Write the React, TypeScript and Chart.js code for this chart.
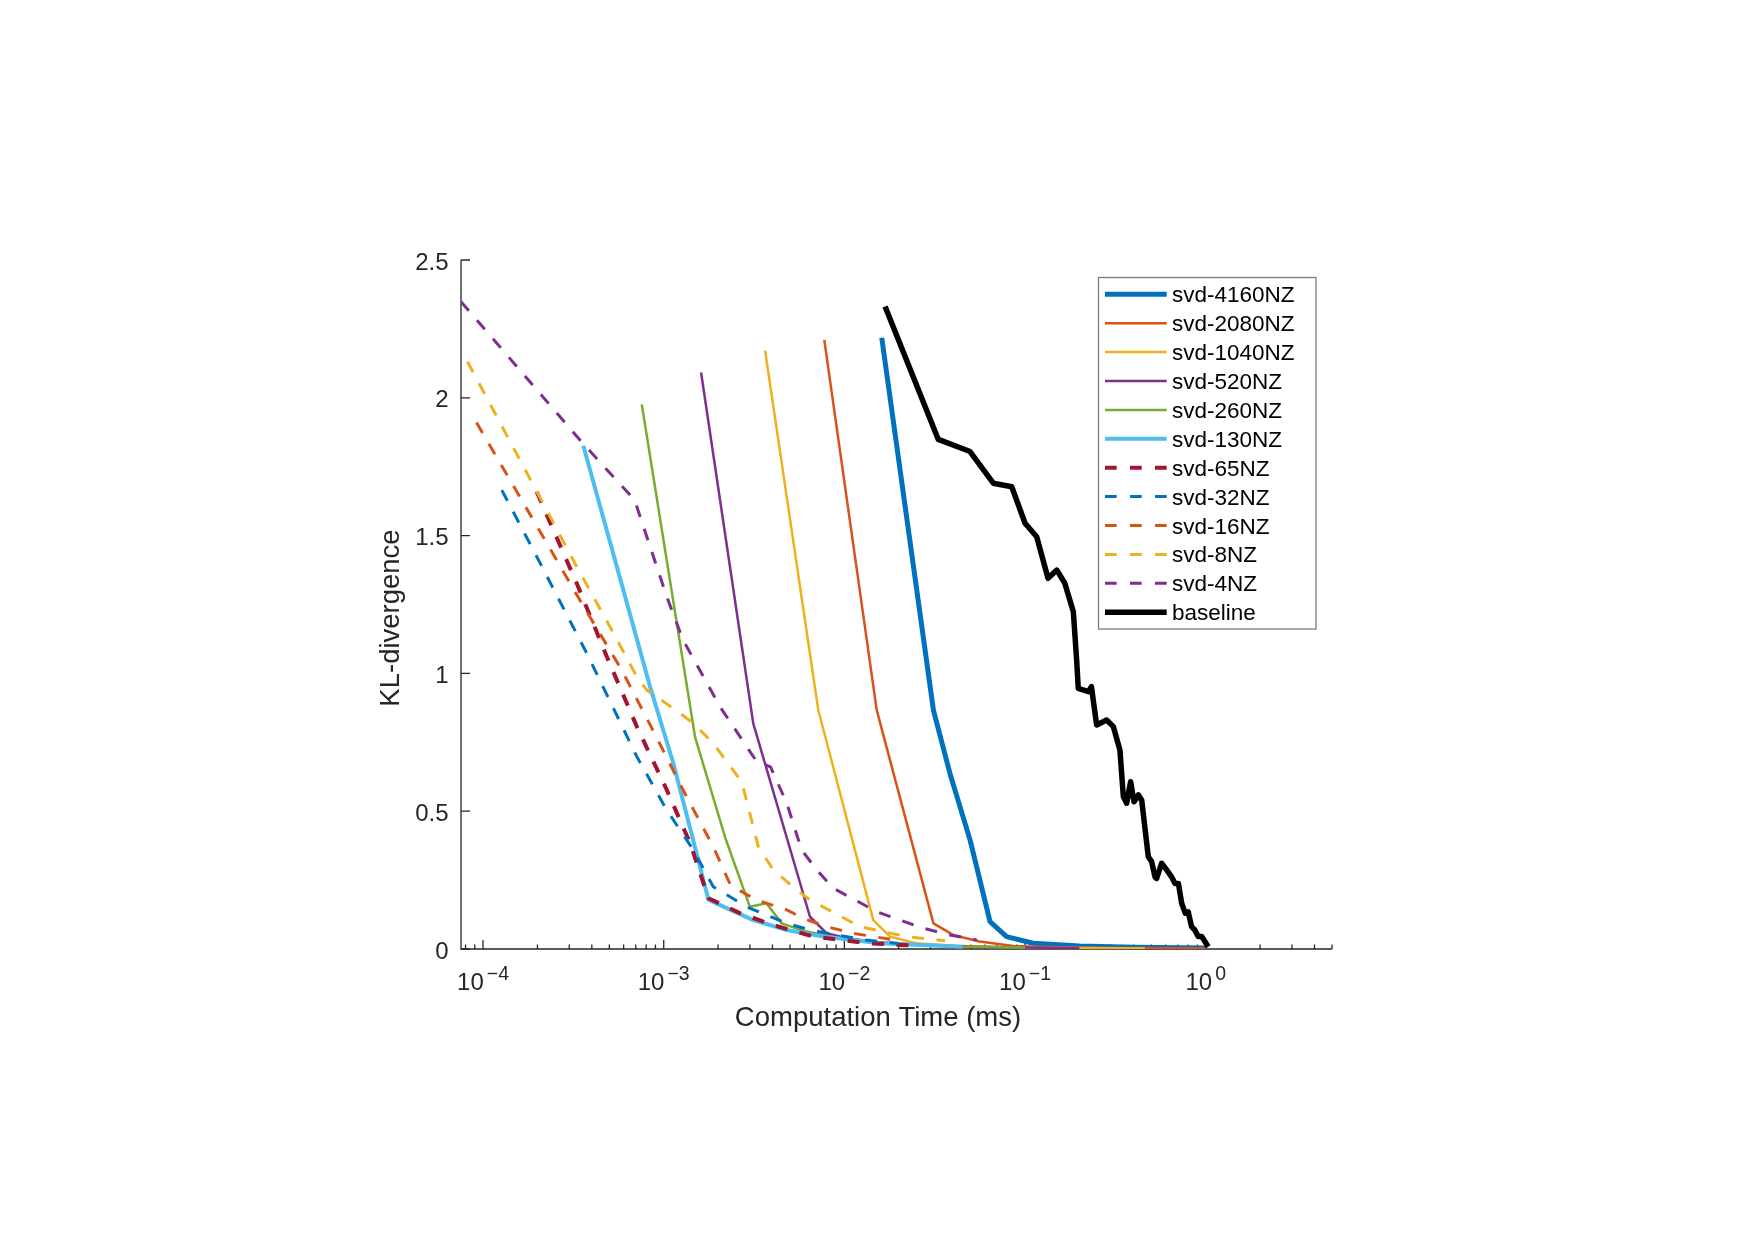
import React, { useEffect, useRef } from "react";
import { Chart, registerables } from "chart.js";

Chart.register(...registerables);

const W = 1755;
const H = 1240;
const FONT = '"Liberation Sans", Arial, Helvetica, sans-serif';
const TEXT = "#262626";

// ---------- data (time in ms, KL-divergence) ----------
const seriesLabels = [
  "svd-4160NZ", "svd-2080NZ", "svd-1040NZ", "svd-520NZ", "svd-260NZ", "svd-130NZ",
  "svd-65NZ", "svd-32NZ", "svd-16NZ", "svd-8NZ", "svd-4NZ", "baseline",
];

const t4160 = [0.0161, 0.0311, 0.0384, 0.0496, 0.064, 0.079, 0.111, 0.2, 0.4, 1.0];
const kl4160 = [2.218, 0.867, 0.637, 0.396, 0.099, 0.045, 0.021, 0.011, 0.006, 0.004];

const t2080 = [0.00774, 0.0151, 0.0311, 0.04, 0.056, 0.086, 0.15, 0.3, 0.6, 1.0];
const kl2080 = [2.21, 0.867, 0.093, 0.051, 0.027, 0.011, 0.006, 0.004, 0.003, 0.003];

const t1040 = [0.00364, 0.00717, 0.01445, 0.0179, 0.025, 0.04, 0.08, 0.2, 0.46];
const kl1040 = [2.171, 0.867, 0.105, 0.045, 0.021, 0.012, 0.006, 0.004, 0.003];

const t520 = [0.00161, 0.00313, 0.00645, 0.00798, 0.0103, 0.015, 0.025, 0.05, 0.1, 0.2];
const kl520 = [2.092, 0.819, 0.117, 0.057, 0.039, 0.025, 0.015, 0.008, 0.005, 0.004];

const t260 = [0.000756, 0.00149, 0.0022, 0.003, 0.0037, 0.0045, 0.006, 0.01, 0.02, 0.045, 0.1];
const kl260 = [1.976, 0.77, 0.4, 0.153, 0.166, 0.093, 0.065, 0.035, 0.018, 0.008, 0.005];

const t130 = [0.000359, 0.00084, 0.00113, 0.00152, 0.00177, 0.00313, 0.0048, 0.00764, 0.0157, 0.045];
const kl130 = [1.826, 0.952, 0.674, 0.347, 0.178, 0.105, 0.069, 0.045, 0.021, 0.008];

const t65 = [0.000198, 0.00033, 0.000484, 0.00071, 0.00104, 0.0014, 0.00166, 0.00177, 0.00264, 0.00404, 0.00673, 0.00945, 0.0133, 0.025];
const kl65 = [1.659, 1.327, 1.061, 0.807, 0.577, 0.384, 0.238, 0.184, 0.13, 0.087, 0.045, 0.033, 0.021, 0.012];

const t32 = [0.000127, 0.000207, 0.000375, 0.00071, 0.00104, 0.00146, 0.00188, 0.00288, 0.0048, 0.00645, 0.00906, 0.013, 0.02];
const kl32 = [1.665, 1.4, 1.073, 0.698, 0.504, 0.359, 0.226, 0.153, 0.093, 0.069, 0.051, 0.033, 0.02];

const t16 = [0.000092, 0.00019, 0.000352, 0.000586, 0.00091, 0.00128, 0.00188, 0.00235, 0.00327, 0.0048, 0.00593, 0.00798, 0.0112, 0.02];
const kl16 = [1.91, 1.556, 1.254, 1.012, 0.77, 0.577, 0.371, 0.23, 0.178, 0.142, 0.111, 0.081, 0.057, 0.03];

const t8 = [0.000082, 0.00021, 0.00033, 0.000516, 0.00071, 0.000805, 0.00113, 0.00146, 0.00188, 0.0027, 0.00334, 0.00404, 0.00545, 0.00645, 0.00887, 0.0122, 0.0221, 0.036];
const kl8 = [2.131, 1.629, 1.387, 1.157, 0.988, 0.94, 0.873, 0.819, 0.746, 0.607, 0.371, 0.287, 0.214, 0.178, 0.13, 0.081, 0.045, 0.03];

const t4 = [0.0000755, 0.00035, 0.00069, 0.00104, 0.00128, 0.00205, 0.00327, 0.0039, 0.0048, 0.0058, 0.00703, 0.0087, 0.01145, 0.0151, 0.0203, 0.0274, 0.0384, 0.054];
const kl4 = [2.349, 1.841, 1.629, 1.278, 1.121, 0.879, 0.68, 0.661, 0.529, 0.359, 0.287, 0.22, 0.178, 0.135, 0.105, 0.075, 0.051, 0.033];

const tBase = [0.0168, 0.0331, 0.0496, 0.0667, 0.0844, 0.1, 0.116, 0.134, 0.15, 0.166, 0.185, 0.193, 0.197, 0.224, 0.233, 0.249, 0.283, 0.308, 0.335, 0.35, 0.365, 0.384, 0.401, 0.424, 0.442, 0.481, 0.502, 0.524, 0.535, 0.57, 0.608, 0.647, 0.676, 0.706, 0.736, 0.77, 0.8, 0.835, 0.87, 0.91, 0.95, 1.033];
const klBase = [2.331, 1.849, 1.805, 1.69, 1.677, 1.545, 1.496, 1.345, 1.375, 1.327, 1.224, 1.049, 0.946, 0.934, 0.952, 0.813, 0.831, 0.807, 0.722, 0.553, 0.529, 0.607, 0.534, 0.559, 0.541, 0.335, 0.317, 0.262, 0.256, 0.311, 0.287, 0.262, 0.238, 0.238, 0.166, 0.13, 0.135, 0.081, 0.069, 0.045, 0.045, 0.008];

const seriesTimes = [t4160, t2080, t1040, t520, t260, t130, t65, t32, t16, t8, t4, tBase];
const seriesKL = [kl4160, kl2080, kl1040, kl520, kl260, kl130, kl65, kl32, kl16, kl8, kl4, klBase];

// ---------- axes ----------
const xMin = 0.0000755;
const xMax = 5;
const yMin = 0;
const yMax = 2.5;
const xTickExponents = [-4, -3, -2, -1, 0];
const yTickValues = [0, 0.5, 1, 1.5, 2, 2.5];
const yTickLabels = ["0", "0.5", "1", "1.5", "2", "2.5"];
const xTitle = "Computation Time (ms)";
const yTitle = "KL-divergence";

// ---------- styles ----------
const seriesColors = [
  "#0072BD", "#D95319", "#EDB120", "#7E2F8E", "#77AC30", "#4DBEEE",
  "#A2142F", "#0072BD", "#D95319", "#EDB120", "#7E2F8E", "#000000",
];
const seriesWidths = [5, 2.5, 2.5, 2.5, 2.5, 4, 4, 3, 3, 3, 3, 5.5];
const seriesDashed = [false, false, false, false, false, false, true, true, true, true, true, false];
const DASH = [12, 12.5];

const axesPlugin = {
  id: "matlabAxes",
  beforeDatasetsDraw(chart: any) {
    const ctx = chart.ctx as CanvasRenderingContext2D;
    const xs = chart.scales.x;
    const ys = chart.scales.y;
    const { left, right, top, bottom } = chart.chartArea;
    ctx.save();
    ctx.strokeStyle = TEXT;
    ctx.lineWidth = 1.3;
    ctx.setLineDash([]);
    ctx.beginPath();
    ctx.moveTo(left, top);
    ctx.lineTo(left, bottom);
    ctx.lineTo(right, bottom);
    ctx.stroke();
    // y ticks (inward)
    ctx.beginPath();
    for (const v of yTickValues) {
      const py = ys.getPixelForValue(v);
      ctx.moveTo(left, py);
      ctx.lineTo(left + 9, py);
    }
    // x ticks: major + minor (inward)
    for (let e = -5; e <= 1; e++) {
      for (let k = 1; k <= 9; k++) {
        const v = k * Math.pow(10, e);
        if (v < xMin * 1.0001 || v > xMax * 1.0001) continue;
        const px = xs.getPixelForValue(v);
        const len = k === 1 ? 9 : 4.5;
        ctx.moveTo(px, bottom);
        ctx.lineTo(px, bottom - len);
      }
    }
    ctx.stroke();
    ctx.restore();
  },
  afterDraw(chart: any) {
    const ctx = chart.ctx as CanvasRenderingContext2D;
    const xs = chart.scales.x;
    const ys = chart.scales.y;
    const { left, bottom } = chart.chartArea;
    ctx.save();
    ctx.fillStyle = TEXT;
    // y tick labels
    ctx.font = `24px ${FONT}`;
    ctx.textAlign = "right";
    ctx.textBaseline = "alphabetic";
    yTickValues.forEach((v, i) => {
      const py = ys.getPixelForValue(v);
      ctx.fillText(yTickLabels[i], left - 12.5, py + 9.5);
    });
    // x tick labels 10^e
    ctx.textAlign = "left";
    for (const e of xTickExponents) {
      const px = xs.getPixelForValue(Math.pow(10, e));
      const base = "10";
      const sup = e < 0 ? "\u2212" + Math.abs(e) : String(e);
      ctx.font = `24px ${FONT}`;
      const wb = ctx.measureText(base).width;
      ctx.font = `19.5px ${FONT}`;
      const ws = ctx.measureText(sup).width;
      const gap = 3;
      const x0 = px - (wb + gap + ws) / 2;
      ctx.font = `24px ${FONT}`;
      ctx.fillText(base, x0, bottom + 41);
      ctx.font = `19.5px ${FONT}`;
      ctx.fillText(sup, x0 + wb + gap, bottom + 31);
    }
    // axis titles
    ctx.font = `27.5px ${FONT}`;
    ctx.textAlign = "center";
    ctx.fillText(xTitle, 878, 1026);
    ctx.save();
    ctx.translate(399, 618);
    ctx.rotate(-Math.PI / 2);
    ctx.fillText(yTitle, 0, 0);
    ctx.restore();

    // legend
    const bx = 1098.5, by = 277.5, bw = 217.5, bh = 351.5;
    ctx.fillStyle = "#ffffff";
    ctx.fillRect(bx, by, bw, bh);
    ctx.strokeStyle = "#7a7a7a";
    ctx.lineWidth = 1.3;
    ctx.strokeRect(bx, by, bw, bh);
    const rowY0 = 294.3;
    const rowH = 28.9;
    ctx.font = `22.5px ${FONT}`;
    ctx.textAlign = "left";
    ctx.textBaseline = "alphabetic";
    seriesLabels.forEach((lab, i) => {
      const y = rowY0 + i * rowH;
      ctx.save();
      ctx.strokeStyle = seriesColors[i];
      ctx.lineWidth = seriesWidths[i];
      ctx.lineCap = "butt";
      ctx.setLineDash(seriesDashed[i] ? [11.7, 13.3] : []);
      ctx.beginPath();
      ctx.moveTo(1105, y);
      ctx.lineTo(1166.7, y);
      ctx.stroke();
      ctx.restore();
      ctx.fillStyle = "#000000";
      ctx.fillText(lab, 1172, y + 8);
    });
    ctx.restore();
  },
};

export default function App() {
  const ref = useRef<HTMLCanvasElement | null>(null);
  useEffect(() => {
    if (!ref.current) return;
    const n = seriesLabels.length;
    const datasets = seriesLabels.map((label, i) => ({
      label,
      data: seriesTimes[i].map((x, j) => ({ x, y: seriesKL[i][j] })),
      borderColor: seriesColors[i],
      backgroundColor: seriesColors[i],
      borderWidth: seriesWidths[i],
      borderDash: seriesDashed[i] ? DASH : [],
      borderCapStyle: "butt" as const,
      borderJoinStyle: "round" as const,
      pointRadius: 0,
      pointHoverRadius: 0,
      fill: false,
      tension: 0,
      order: n - i,
    }));
    const chart = new Chart(ref.current, {
      type: "line",
      data: { datasets },
      options: {
        animation: false,
        responsive: false,
        maintainAspectRatio: false,
        devicePixelRatio: 1,
        events: [],
        layout: { padding: { left: 461, top: 260, right: W - 1332, bottom: H - 949 } },
        scales: {
          x: { type: "logarithmic", min: xMin, max: xMax, display: false },
          y: { type: "linear", min: yMin, max: yMax, display: false },
        },
        plugins: {
          legend: { display: false },
          tooltip: { enabled: false },
          title: { display: false },
        },
      },
      plugins: [axesPlugin],
    });
    return () => chart.destroy();
  }, []);
  return (
    <div style={{ position: "absolute", left: 0, top: 0, width: W, height: H, background: "#ffffff" }}>
      <canvas ref={ref} width={W} height={H} style={{ display: "block", width: W, height: H }} />
    </div>
  );
}
